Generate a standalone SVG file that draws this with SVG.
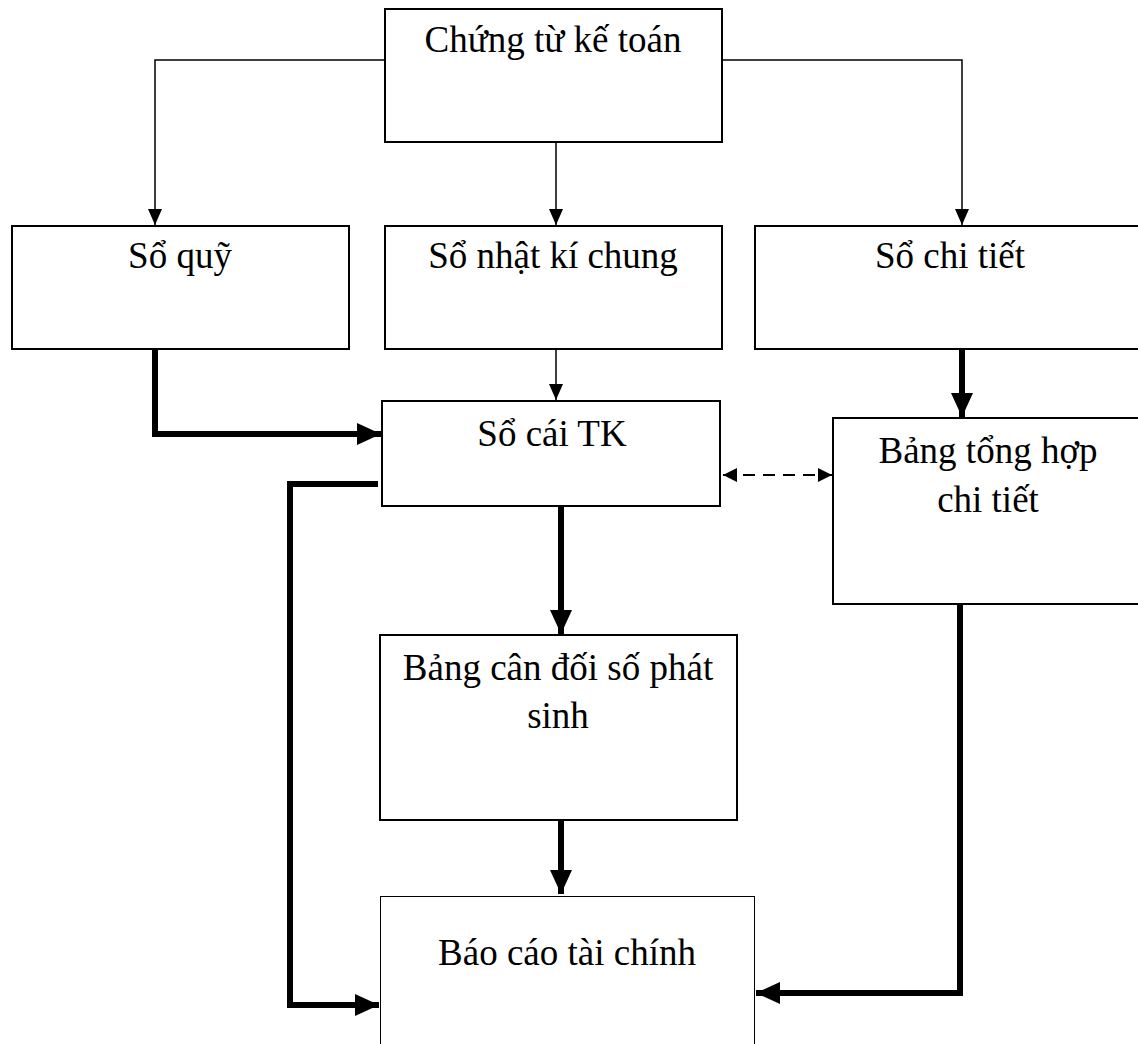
<svg xmlns="http://www.w3.org/2000/svg" width="1138" height="1044" viewBox="0 0 1138 1044">
<style>
.box{fill:#fff;stroke:#000;stroke-width:2}
.t{font-family:"Liberation Serif","Times New Roman",serif;font-size:37px;fill:#000;text-anchor:middle}
.thin{fill:none;stroke:#000;stroke-width:1.5}
.thick{fill:none;stroke:#000;stroke-width:6}
.dash{fill:none;stroke:#000;stroke-width:2;stroke-dasharray:12 8}
</style>
<defs>
<marker id="a" markerUnits="userSpaceOnUse" markerWidth="16" markerHeight="14" refX="16" refY="7" orient="auto"><path d="M0,0 L16,7 L0,14 Z" fill="#000"/></marker>
<marker id="A" markerUnits="userSpaceOnUse" markerWidth="24" markerHeight="22" refX="24" refY="11" orient="auto"><path d="M0,0 L24,11 L0,22 Z" fill="#000"/></marker>
<marker id="d" markerUnits="userSpaceOnUse" markerWidth="14" markerHeight="14" refX="14" refY="7" orient="auto-start-reverse"><path d="M0,0 L14,7 L0,14 Z" fill="#000"/></marker>
</defs>
<g id="connectors">
<path class="thin" d="M385,60 H155 V225" marker-end="url(#a)"/>
<path class="thin" d="M556,142 V225" marker-end="url(#a)"/>
<path class="thin" d="M722,60 H962 V225" marker-end="url(#a)"/>
<path class="thin" d="M556,349 V400" marker-end="url(#a)"/>
<path class="thick" d="M155,349 V434 H381" marker-end="url(#A)"/>
<path class="thick" d="M962,349 V417" marker-end="url(#A)"/>
<path class="dash" d="M723,475 H832" marker-start="url(#d)" marker-end="url(#d)"/>
<path class="thick" d="M378,484 H290 V1005 H379" marker-end="url(#A)"/>
<path class="thick" d="M561,506 V634" marker-end="url(#A)"/>
<path class="thick" d="M561,820 V894" marker-end="url(#A)"/>
<path class="thick" d="M960,604 V993 H756" marker-end="url(#A)"/>
</g>
<g id="chung-tu"><rect class="box" x="385" y="9" width="337" height="133"/><text class="t" x="553" y="52">Chứng từ kế toán</text></g>
<g id="so-quy"><rect class="box" x="12" y="226" width="337" height="123"/><text class="t" x="180" y="268">Sổ quỹ</text></g>
<g id="so-nhat-ki"><rect class="box" x="385" y="226" width="337" height="123"/><text class="t" x="553" y="268">Sổ nhật kí chung</text></g>
<g id="so-chi-tiet"><rect class="box" x="755" y="226" width="390" height="123"/><text class="t" x="950" y="268">Sổ chi tiết</text></g>
<g id="so-cai"><rect class="box" x="382" y="401" width="338" height="105"/><text class="t" x="552" y="446">Sổ cái TK</text></g>
<g id="bang-tong-hop"><rect class="box" x="833" y="418" width="312" height="186"/><text class="t" x="988" y="463">Bảng tổng hợp</text><text class="t" x="988" y="512">chi tiết</text></g>
<g id="bang-can-doi"><rect class="box" x="380" y="635" width="357" height="185"/><text class="t" x="558" y="680">Bảng cân đối số phát</text><text class="t" x="558" y="728">sinh</text></g>
<g id="bao-cao"><rect class="box" style="stroke-width:1" x="380.5" y="896.5" width="374" height="160"/><text class="t" x="567" y="965">Báo cáo tài chính</text></g>
</svg>
